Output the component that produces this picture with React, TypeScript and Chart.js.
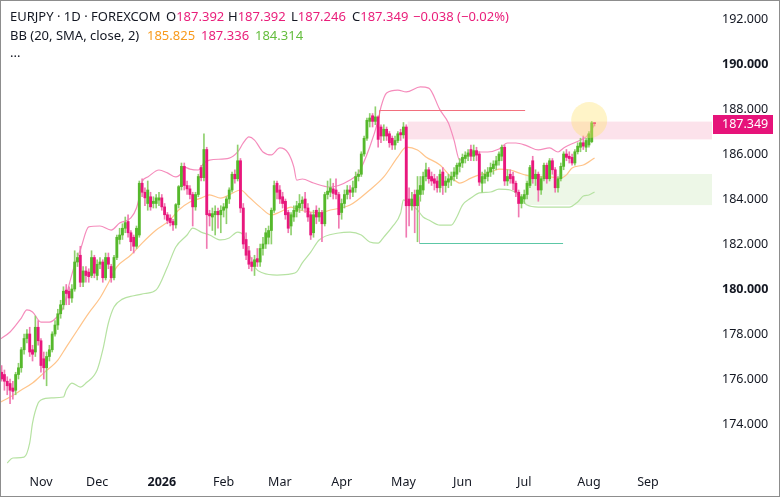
import React, { useEffect, useRef } from "react";
import { Chart, registerables } from "chart.js";

Chart.register(...registerables);

// ---------- Candle data (trading-day index 0..212) ----------
const opens = [
  176.0, 176.3, 176.2, 175.9, 175.8, 175.6, 175.5, 176.2, 176.5, 177.3,
  177.8, 178.0, 177.3, 177.2, 178.3, 177.7, 176.9, 176.5, 177.0, 177.3,
  178.0, 178.4, 178.9, 179.3, 179.95, 179.9, 179.6, 180.0, 181.2, 181.5,
  180.3, 180.8, 180.75, 180.6, 181.4, 180.6, 181.1, 181.2, 180.5, 181.4,
  181.0, 180.5, 181.4, 182.2, 182.4, 182.7, 183.0, 182.5, 182.3, 181.9,
  182.4, 184.7, 184.3, 183.8, 184.1, 183.8, 183.8, 183.95, 184.05, 183.65,
  183.3, 183.15, 183.0, 182.85, 183.75, 184.55, 185.45, 184.6, 184.45, 184.2,
  183.65, 184.2, 185.4, 184.95, 186.2, 183.35, 183.2, 183.3, 183.45, 183.3,
  183.5, 183.6, 184.0, 184.4, 185.1, 184.9, 185.7, 183.6, 182.2, 181.7,
  181.2, 181.0, 181.35, 181.2, 181.8, 182.0, 182.3, 182.6, 183.5, 184.7,
  184.4, 184.1, 183.9, 183.4, 182.8, 183.2, 183.45, 183.6, 183.8, 184.0,
  183.6, 183.3, 182.5, 183.5, 183.2, 183.4, 182.9, 184.2, 184.3, 184.45,
  184.4, 184.2, 183.4, 183.8, 184.2, 184.4, 184.3, 184.5, 185.0, 185.1,
  186.0, 186.7, 187.45, 187.7, 187.45, 187.65, 187.2, 186.8, 187.1, 186.9,
  186.7, 186.4, 186.6, 186.95, 186.85, 187.2, 184.0, 183.7, 184.2, 183.7,
  184.2, 184.4, 185.0, 185.3, 185.0, 184.9, 184.8, 184.5, 185.2, 184.6,
  184.75, 184.85, 185.0, 185.1, 185.45, 185.6, 185.8, 185.9, 186.2, 185.9,
  186.15, 186.0, 184.7, 184.9, 185.0, 185.2, 185.35, 185.5, 185.7, 185.9,
  186.3, 184.8, 185.1, 185.0, 184.7, 184.3, 183.8, 184.0, 184.2, 184.6,
  185.7, 184.9, 185.1, 184.4, 184.9, 185.5, 184.9, 185.7, 185.3, 184.5,
  184.9, 185.45, 186.0, 185.9, 185.85, 185.6, 186.1, 186.3, 186.5, 186.3,
  186.4, 186.55, 187.392,
];
const highs = [
  176.5, 176.6, 176.4, 176.1, 176.0, 175.9, 176.3, 176.7, 177.4, 178.0,
  178.2, 178.3, 177.5, 178.8, 178.6, 177.8, 177.2, 177.2, 177.5, 178.1,
  178.6, 179.1, 179.5, 180.1, 180.2, 180.1, 180.2, 181.7, 181.6, 181.9,
  181.0, 181.0, 180.9, 181.7, 181.5, 181.3, 181.4, 181.3, 181.6, 181.6,
  181.1, 181.5, 182.4, 182.7, 182.9, 183.2, 183.3, 182.6, 182.4, 182.8,
  184.8, 184.9, 184.5, 184.8, 184.3, 184.1, 184.2, 184.3, 184.2, 183.8,
  183.4, 183.3, 183.1, 183.8, 184.6, 185.6, 185.6, 184.8, 184.6, 184.3,
  184.3, 185.1, 185.5, 186.9, 186.3, 183.5, 183.6, 183.7, 183.6, 183.7,
  183.8, 184.1, 184.5, 185.2, 185.3, 186.4, 185.8, 183.8, 182.5, 181.9,
  181.4, 181.5, 181.8, 182.0, 182.3, 182.7, 182.8, 183.6, 184.8, 184.8,
  184.6, 184.3, 184.0, 183.5, 183.4, 183.7, 183.9, 184.2, 184.1, 184.3,
  183.8, 183.4, 183.5, 183.7, 183.6, 183.5, 184.3, 184.8, 184.9, 184.7,
  184.9, 184.3, 184.0, 184.4, 184.6, 184.6, 184.8, 185.2, 185.3, 186.1,
  186.8, 187.6, 187.8, 187.8, 188.1, 187.7, 187.3, 187.3, 187.2, 187.0,
  186.8, 186.8, 187.0, 187.1, 187.4, 187.3, 184.5, 184.3, 184.4, 185.0,
  185.0, 185.2, 185.6, 185.4, 185.2, 185.1, 185.0, 185.3, 185.4, 185.0,
  185.1, 185.2, 185.4, 185.6, 185.8, 186.0, 186.1, 186.2, 186.4, 186.4,
  186.3, 186.1, 185.2, 185.3, 185.4, 185.6, 185.7, 185.9, 186.1, 186.4,
  186.4, 185.3, 185.3, 185.2, 184.8, 184.4, 184.2, 184.4, 184.8, 185.5,
  185.9, 185.3, 185.2, 185.0, 185.6, 185.6, 185.8, 185.8, 185.4, 185.0,
  185.6, 186.1, 186.2, 186.1, 186.0, 186.2, 186.5, 186.7, 186.8, 186.7,
  187.0, 187.45, 187.392,
];
const lows = [
  175.5, 175.9, 175.5, 175.3, 174.9, 175.1, 175.3, 176.0, 176.3, 177.1,
  177.6, 177.0, 176.8, 177.0, 177.5, 176.3, 176.0, 175.7, 176.8, 177.2,
  177.9, 178.2, 178.7, 179.1, 179.3, 179.3, 179.4, 179.9, 181.0, 180.1,
  180.1, 180.3, 180.3, 180.5, 180.5, 180.4, 180.9, 180.3, 180.4, 180.9,
  180.3, 180.4, 181.3, 182.0, 182.2, 182.5, 182.3, 181.7, 181.6, 181.8,
  182.3, 184.1, 183.7, 183.5, 183.5, 183.6, 183.6, 183.7, 183.5, 183.1,
  182.9, 182.8, 182.6, 182.7, 183.6, 184.4, 184.4, 184.2, 184.0, 182.8,
  183.5, 184.1, 184.8, 184.8, 181.8, 182.8, 182.6, 182.4, 182.7, 182.5,
  183.2, 182.9, 183.8, 184.3, 184.7, 184.8, 183.4, 181.8, 181.3, 180.9,
  180.8, 180.6, 181.0, 181.0, 181.5, 181.8, 182.0, 182.0, 183.4, 184.0,
  183.8, 183.6, 183.1, 182.5, 182.4, 183.0, 183.2, 183.4, 183.5, 183.4,
  183.0, 182.2, 182.3, 182.9, 183.0, 182.1, 182.8, 184.0, 184.1, 184.0,
  184.0, 182.7, 183.1, 183.6, 184.0, 184.0, 184.1, 184.3, 184.8, 185.0,
  185.9, 186.6, 187.2, 187.2, 187.3, 186.3, 186.5, 186.6, 186.6, 186.3,
  186.2, 186.2, 186.5, 186.6, 186.7, 182.3, 182.8, 183.5, 182.5, 182.1,
  183.9, 184.2, 184.8, 184.7, 184.6, 184.4, 184.3, 184.3, 184.2, 184.3,
  184.5, 184.6, 184.8, 184.9, 185.2, 185.4, 185.6, 185.7, 185.7, 185.7,
  185.7, 184.6, 184.3, 184.7, 184.8, 185.0, 185.1, 185.3, 185.5, 185.7,
  184.6, 184.6, 184.7, 184.4, 184.1, 183.2, 183.6, 183.8, 184.0, 184.5,
  184.7, 184.6, 183.9, 184.2, 184.8, 184.7, 184.8, 185.1, 184.3, 184.3,
  184.8, 185.3, 185.7, 185.6, 185.5, 185.5, 186.0, 186.1, 186.2, 186.1,
  186.3, 186.5, 187.246,
];
const closes = [
  176.2, 176.0, 175.9, 175.7, 175.5, 175.45, 176.2, 176.5, 177.3, 177.8,
  178.0, 177.2, 177.1, 178.3, 177.7, 176.6, 176.5, 177.0, 177.3, 178.0,
  178.4, 178.9, 179.3, 179.9, 179.8, 179.6, 180.0, 181.2, 181.4, 180.3,
  180.8, 180.6, 180.55, 181.4, 180.7, 181.1, 181.2, 180.5, 181.4, 181.1,
  180.5, 181.4, 182.3, 182.4, 182.7, 182.95, 182.5, 182.1, 181.9, 182.7,
  184.7, 184.3, 184.05, 184.4, 183.65, 183.9, 184.05, 184.05, 183.65, 183.3,
  183.05, 182.95, 182.85, 183.75, 184.55, 185.45, 184.6, 184.45, 184.2, 183.65,
  184.2, 185.0, 184.95, 186.2, 183.3, 183.25, 183.35, 183.45, 183.3, 183.5,
  183.65, 184.0, 184.4, 185.1, 184.9, 185.7, 183.6, 182.0, 181.5, 181.1,
  181.0, 181.3, 181.2, 181.8, 182.0, 182.5, 182.6, 183.5, 184.6, 184.3,
  184.0, 183.8, 183.3, 182.7, 183.3, 183.5, 183.7, 183.8, 183.95, 183.6,
  183.2, 182.4, 183.3, 183.2, 183.4, 182.9, 184.2, 184.35, 184.5, 184.25,
  184.2, 183.3, 183.8, 184.2, 184.4, 184.3, 184.5, 185.0, 185.1, 186.0,
  186.7, 187.5, 187.6, 187.45, 187.65, 186.65, 186.8, 187.1, 186.8, 186.5,
  186.4, 186.6, 186.9, 186.85, 187.2, 183.7, 183.7, 184.0, 183.7, 184.4,
  184.6, 185.0, 185.3, 184.9, 184.8, 184.7, 184.5, 185.1, 184.6, 184.8,
  184.9, 185.0, 185.2, 185.5, 185.6, 185.85, 185.95, 186.05, 185.9, 186.15,
  185.95, 184.75, 185.0, 185.1, 185.2, 185.4, 185.55, 185.7, 186.0, 186.3,
  184.8, 185.0, 184.9, 184.7, 184.3, 183.8, 184.1, 184.2, 184.7, 185.4,
  184.9, 185.1, 184.4, 184.9, 185.5, 184.9, 185.7, 185.3, 184.5, 184.9,
  185.45, 186.0, 185.85, 185.8, 185.6, 186.1, 186.35, 186.5, 186.35, 186.6,
  186.9, 187.387, 187.349,
];

// ---------- Bollinger Bands (20, SMA, close, 2) ----------
const upperIdx = [0, 4, 8, 10, 12, 15, 18, 21, 23, 25, 27, 29, 32, 36, 40, 43, 47, 49, 50, 51, 53, 57, 60, 63, 65, 66, 68, 71, 73, 75, 82, 85, 87, 89, 91, 94, 97, 100, 103, 105, 106, 108, 112, 118, 125, 128, 132, 135, 136, 138, 142, 145, 150, 153, 157, 160, 162, 164, 167, 170, 174, 178, 181, 184, 188, 192, 196, 199, 201, 203, 207, 209, 211, 212];
const upperVal = [177.73, 178.09, 178.71, 179.07, 178.98, 178.53, 178.53, 178.8, 179.2, 180.18, 181.07, 181.73, 182.76, 182.8, 182.62, 182.93, 183.16, 183.6, 184.09, 184.76, 184.98, 185.29, 185.16, 184.98, 185.16, 185.42, 185.33, 185.29, 185.6, 185.73, 185.82, 186.09, 186.49, 186.76, 186.62, 186.09, 185.96, 186.27, 186.04, 185.42, 184.84, 184.89, 184.71, 184.53, 184.84, 185.16, 186.31, 187.51, 188.09, 188.71, 188.84, 188.76, 188.98, 188.93, 187.96, 187.38, 186.62, 185.73, 185.96, 186.09, 186.09, 186.22, 186.49, 186.49, 186.36, 186.18, 186.27, 186.09, 186.27, 186.4, 186.62, 186.76, 187.07, 187.336];
const midIdx = [0, 4, 8, 12, 16, 21, 24, 28, 32, 36, 39, 42, 47, 51, 56, 61, 64, 68, 72, 75, 79, 82, 86, 89, 93, 97, 100, 104, 107, 111, 114, 118, 125, 132, 137, 142, 145, 149, 152, 157, 161, 164, 168, 171, 175, 178, 182, 185, 189, 193, 196, 200, 202, 204, 208, 212];
const midVal = [174.93, 175.2, 175.51, 175.82, 176.27, 176.84, 177.42, 178.18, 178.93, 179.6, 180.27, 180.98, 181.51, 182.04, 182.62, 183.07, 183.51, 183.87, 184.04, 184.18, 184.04, 184.18, 184.4, 184.09, 183.64, 183.29, 183.42, 183.64, 183.51, 183.42, 183.38, 183.51, 183.73, 184.4, 184.98, 185.87, 186.31, 186.18, 185.87, 185.51, 184.98, 184.71, 184.93, 185.07, 185.2, 185.33, 185.29, 185.16, 185.02, 184.98, 184.98, 184.93, 185.07, 185.38, 185.51, 185.825];
const lowerIdx = [3, 5, 9, 11, 12, 14, 15, 19, 23, 24, 26, 29, 31, 35, 37, 39, 41, 44, 48, 52, 56, 60, 63, 67, 69, 72, 75, 79, 82, 85, 87, 89, 91, 94, 99, 104, 106, 108, 111, 114, 121, 125, 129, 132, 135, 137, 140, 143, 144, 146, 149, 151, 153, 157, 161, 163, 165, 168, 171, 175, 178, 182, 185, 188, 192, 196, 200, 203, 206, 208, 210, 212];
const lowerVal = [172.27, 172.49, 172.53, 173.16, 174.04, 174.93, 175.07, 175.16, 175.2, 175.51, 175.82, 175.64, 175.82, 176.4, 177.29, 178.49, 179.2, 179.55, 179.7, 179.8, 179.96, 180.98, 181.87, 182.4, 182.71, 182.53, 182.4, 182.18, 182.27, 182.53, 182.4, 181.6, 180.98, 180.71, 180.62, 180.67, 180.76, 181.16, 181.64, 182.18, 182.49, 182.53, 182.4, 182.09, 182.04, 182.31, 182.76, 183.38, 183.96, 183.82, 183.51, 183.2, 183.07, 182.84, 182.84, 183.2, 183.73, 184.04, 184.27, 184.31, 184.44, 184.4, 184.18, 183.73, 183.64, 183.64, 183.64, 183.64, 183.87, 184.13, 184.18, 184.314];

// ---------- Axes ----------
const monthTickIdx = [15, 35, 58, 80, 100, 122, 144, 165, 187, 210, 231];
const monthTickLabels = ["Nov", "Dec", "2026", "Feb", "Mar", "Apr", "May", "Jun", "Jul", "Aug", "Sep"];
const priceTicks = [174, 176, 178, 180, 182, 184, 186, 188, 190, 192];
const boldPriceTicks = [180, 190];
const xRange = [0.78, 253.8];
const yRange = [171.956, 192.8];

// ---------- Drawings ----------
const pinkZone = [186.65, 187.44];
const pinkZoneStartIdx = 145.5;
const greenZone = [183.73, 185.11];
const greenZoneStartIdx = 187.3;
const topLinePrice = 187.96;
const topLineIdx = [135.2, 187.3];
const topLineTickEnd = 187.6;
const bottomLinePrice = 182.04;
const bottomLineIdx = [149.4, 200.8];
const bottomLineVertTop = 184.1;
const highlightIdx = 210.1;
const highlightPrice = 187.51;

const FONT = "'Noto Sans', 'Liberation Sans', sans-serif";
const UP = "#55b82b";
const DOWN = "#e8177d";
const PINK_TEXT = "#e91e7a";

const drawingsPlugin = {
  id: "drawings",
  beforeDatasetsDraw(chart: any) {
    const { ctx, chartArea: a, scales } = chart;
    const x = scales.x, y = scales.y;
    ctx.save();
    ctx.beginPath();
    ctx.rect(a.left, a.top, a.width, a.height);
    ctx.clip();
    const p1 = x.getPixelForValue(pinkZoneStartIdx);
    const pt = y.getPixelForValue(pinkZone[1]);
    const pb = y.getPixelForValue(pinkZone[0]);
    ctx.fillStyle = "rgba(233, 30, 99, 0.13)";
    ctx.fillRect(p1, pt, a.right - p1, pb - pt);
    const g1 = x.getPixelForValue(greenZoneStartIdx);
    const gt = y.getPixelForValue(greenZone[1]);
    const gb = y.getPixelForValue(greenZone[0]);
    ctx.fillStyle = "rgba(110, 190, 60, 0.12)";
    ctx.fillRect(g1, gt, a.right - g1, gb - gt);
    ctx.restore();
  },
  afterDatasetsDraw(chart: any) {
    const { ctx, chartArea: a, scales } = chart;
    const x = scales.x, y = scales.y;
    ctx.save();
    ctx.beginPath();
    ctx.rect(a.left, a.top, a.width, a.height);
    ctx.clip();
    const ty = Math.round(y.getPixelForValue(topLinePrice)) + 0.5;
    const tx0 = Math.round(x.getPixelForValue(topLineIdx[0])) + 0.5;
    const tx1 = x.getPixelForValue(topLineIdx[1]);
    ctx.strokeStyle = "#f2707e";
    ctx.lineWidth = 1;
    ctx.beginPath();
    ctx.moveTo(tx0, y.getPixelForValue(topLineTickEnd));
    ctx.lineTo(tx0, ty);
    ctx.lineTo(tx1, ty);
    ctx.stroke();
    const by = Math.round(y.getPixelForValue(bottomLinePrice)) + 0.5;
    const bx0 = Math.round(x.getPixelForValue(bottomLineIdx[0])) + 0.5;
    const bx1 = x.getPixelForValue(bottomLineIdx[1]);
    ctx.strokeStyle = "#f39ac0";
    ctx.beginPath();
    ctx.moveTo(bx0, y.getPixelForValue(bottomLineVertTop));
    ctx.lineTo(bx0, by);
    ctx.stroke();
    ctx.strokeStyle = "#5cc7a6";
    ctx.beginPath();
    ctx.moveTo(bx0, by);
    ctx.lineTo(bx1, by);
    ctx.stroke();
    ctx.fillStyle = "rgba(255, 226, 110, 0.38)";
    ctx.beginPath();
    ctx.arc(x.getPixelForValue(highlightIdx), y.getPixelForValue(highlightPrice), 18, 0, Math.PI * 2);
    ctx.fill();
    ctx.restore();
  },
  afterDraw(chart: any) {
    const { ctx, chartArea: a, scales } = chart;
    const y = scales.y;
    const last = closes[closes.length - 1];
    const py = y.getPixelForValue(last);
    ctx.save();
    ctx.fillStyle = "#e6137a";
    ctx.fillRect(a.right + 1, Math.round(py) - 9, 60, 19);
    ctx.fillStyle = "#ffffff";
    ctx.font = `12.5px ${FONT}`;
    ctx.textBaseline = "middle";
    ctx.textAlign = "left";
    ctx.fillText(last.toFixed(3), a.right + 10, Math.round(py) + 0.5);
    ctx.restore();
  },
};

export default function App() {
  const canvasRef = useRef<HTMLCanvasElement | null>(null);

  useEffect(() => {
    const idx = closes.map((_, i) => i);
    const isUp = idx.map((i) => closes[i] >= opens[i]);
    const chart = new Chart(canvasRef.current as HTMLCanvasElement, {
      type: "bar",
      data: {
        datasets: [
          {
            type: "bar",
            label: "body",
            data: idx.map((i) => ({ x: i, y: [opens[i], closes[i]] })) as any,
            backgroundColor: isUp.map((u) => (u ? UP : DOWN)),
            barThickness: 2.2,
            minBarLength: 1,
            grouped: false,
            borderWidth: 0,
            order: 1,
          } as any,
          {
            type: "bar",
            label: "wick",
            data: idx.map((i) => ({ x: i, y: [lows[i], highs[i]] })) as any,
            backgroundColor: isUp.map((u) => (u ? "#8fd06e" : "#f07ab2")),
            barThickness: 1,
            grouped: false,
            borderWidth: 0,
            order: 2,
          } as any,
          {
            type: "line",
            label: "upper",
            data: upperIdx.map((v, k) => ({ x: v, y: upperVal[k] })),
            borderColor: "#f58cbc",
            borderWidth: 1.2,
            pointRadius: 0,
            cubicInterpolationMode: "monotone",
            order: 3,
          } as any,
          {
            type: "line",
            label: "basis",
            data: midIdx.map((v, k) => ({ x: v, y: midVal[k] })),
            borderColor: "#ffc48a",
            borderWidth: 1.2,
            pointRadius: 0,
            cubicInterpolationMode: "monotone",
            order: 3,
          } as any,
          {
            type: "line",
            label: "lower",
            data: lowerIdx.map((v, k) => ({ x: v, y: lowerVal[k] })),
            borderColor: "#b6e2a2",
            borderWidth: 1.2,
            pointRadius: 0,
            cubicInterpolationMode: "monotone",
            order: 3,
          } as any,
        ],
      },
      options: {
        animation: false,
        responsive: false,
        devicePixelRatio: 1,
        layout: { padding: 0 },
        plugins: { legend: { display: false }, tooltip: { enabled: false } },
        scales: {
          x: {
            type: "linear",
            position: "bottom",
            min: xRange[0],
            max: xRange[1],
            offset: false,
            grid: { display: false, drawTicks: false },
            border: { display: false },
            afterBuildTicks: (axis: any) => {
              axis.ticks = monthTickIdx.map((v) => ({ value: v }));
            },
            afterFit: (axis: any) => {
              axis.height = 26;
              axis.paddingLeft = 0;
              axis.paddingRight = 0;
            },
            ticks: {
              autoSkip: false,
              maxRotation: 0,
              padding: 5,
              color: "#131722",
              callback: (_v: any, i: number) => monthTickLabels[i],
              font: (c: any) => ({
                family: FONT,
                size: 12.5,
                weight: monthTickLabels[c.index] === "2026" ? "bold" : "normal",
              }),
            },
          },
          y: {
            type: "linear",
            position: "right",
            min: yRange[0],
            max: yRange[1],
            grid: { display: false, drawTicks: false },
            border: { display: false },
            afterBuildTicks: (axis: any) => {
              axis.ticks = priceTicks.map((v) => ({ value: v }));
            },
            afterFit: (axis: any) => {
              axis.width = 67;
              axis.paddingTop = 0;
              axis.paddingBottom = 0;
            },
            ticks: {
              padding: 10,
              color: "#131722",
              callback: (v: any) => Number(v).toFixed(3),
              font: (c: any) => ({
                family: FONT,
                size: 12.5,
                weight: boldPriceTicks.includes(priceTicks[c.index]) ? "bold" : "normal",
              }),
            },
          },
        },
      } as any,
      plugins: [drawingsPlugin],
    });
    return () => chart.destroy();
  }, []);

  const txt: React.CSSProperties = {
    position: "absolute",
    fontFamily: FONT,
    fontSize: 13,
    color: "#131722",
    whiteSpace: "nowrap",
    lineHeight: "18px",
  };

  return (
    <div
      style={{
        position: "absolute",
        left: 0,
        top: 0,
        width: 780,
        height: 497,
        boxSizing: "border-box",
        border: "1px solid #8d8d8d",
        background: "#ffffff",
        overflow: "hidden",
      }}
    >
      <canvas ref={canvasRef} width={778} height={495} style={{ position: "absolute", left: 0, top: 0, width: 778, height: 495 }} />
      <span style={{ ...txt, left: 9, top: 6 }}>EURJPY · 1D · FOREXCOM</span>
      <span style={{ ...txt, left: 165, top: 6 }}>O<span style={{ color: PINK_TEXT }}>187.392</span></span>
      <span style={{ ...txt, left: 227, top: 6 }}>H<span style={{ color: PINK_TEXT }}>187.392</span></span>
      <span style={{ ...txt, left: 290, top: 6 }}>L<span style={{ color: PINK_TEXT }}>187.246</span></span>
      <span style={{ ...txt, left: 351, top: 6 }}>C<span style={{ color: PINK_TEXT }}>187.349</span></span>
      <span style={{ ...txt, left: 412, top: 6, color: PINK_TEXT }}>−0.038 (−0.02%)</span>
      <span style={{ ...txt, left: 9, top: 25 }}>BB (20, SMA, close, 2)</span>
      <span style={{ ...txt, left: 146, top: 25, color: "#f89a1c" }}>185.825</span>
      <span style={{ ...txt, left: 200, top: 25, color: PINK_TEXT }}>187.336</span>
      <span style={{ ...txt, left: 254, top: 25, color: "#63bd3c" }}>184.314</span>
      <span style={{ ...txt, left: 9, top: 42 }}>...</span>
    </div>
  );
}
